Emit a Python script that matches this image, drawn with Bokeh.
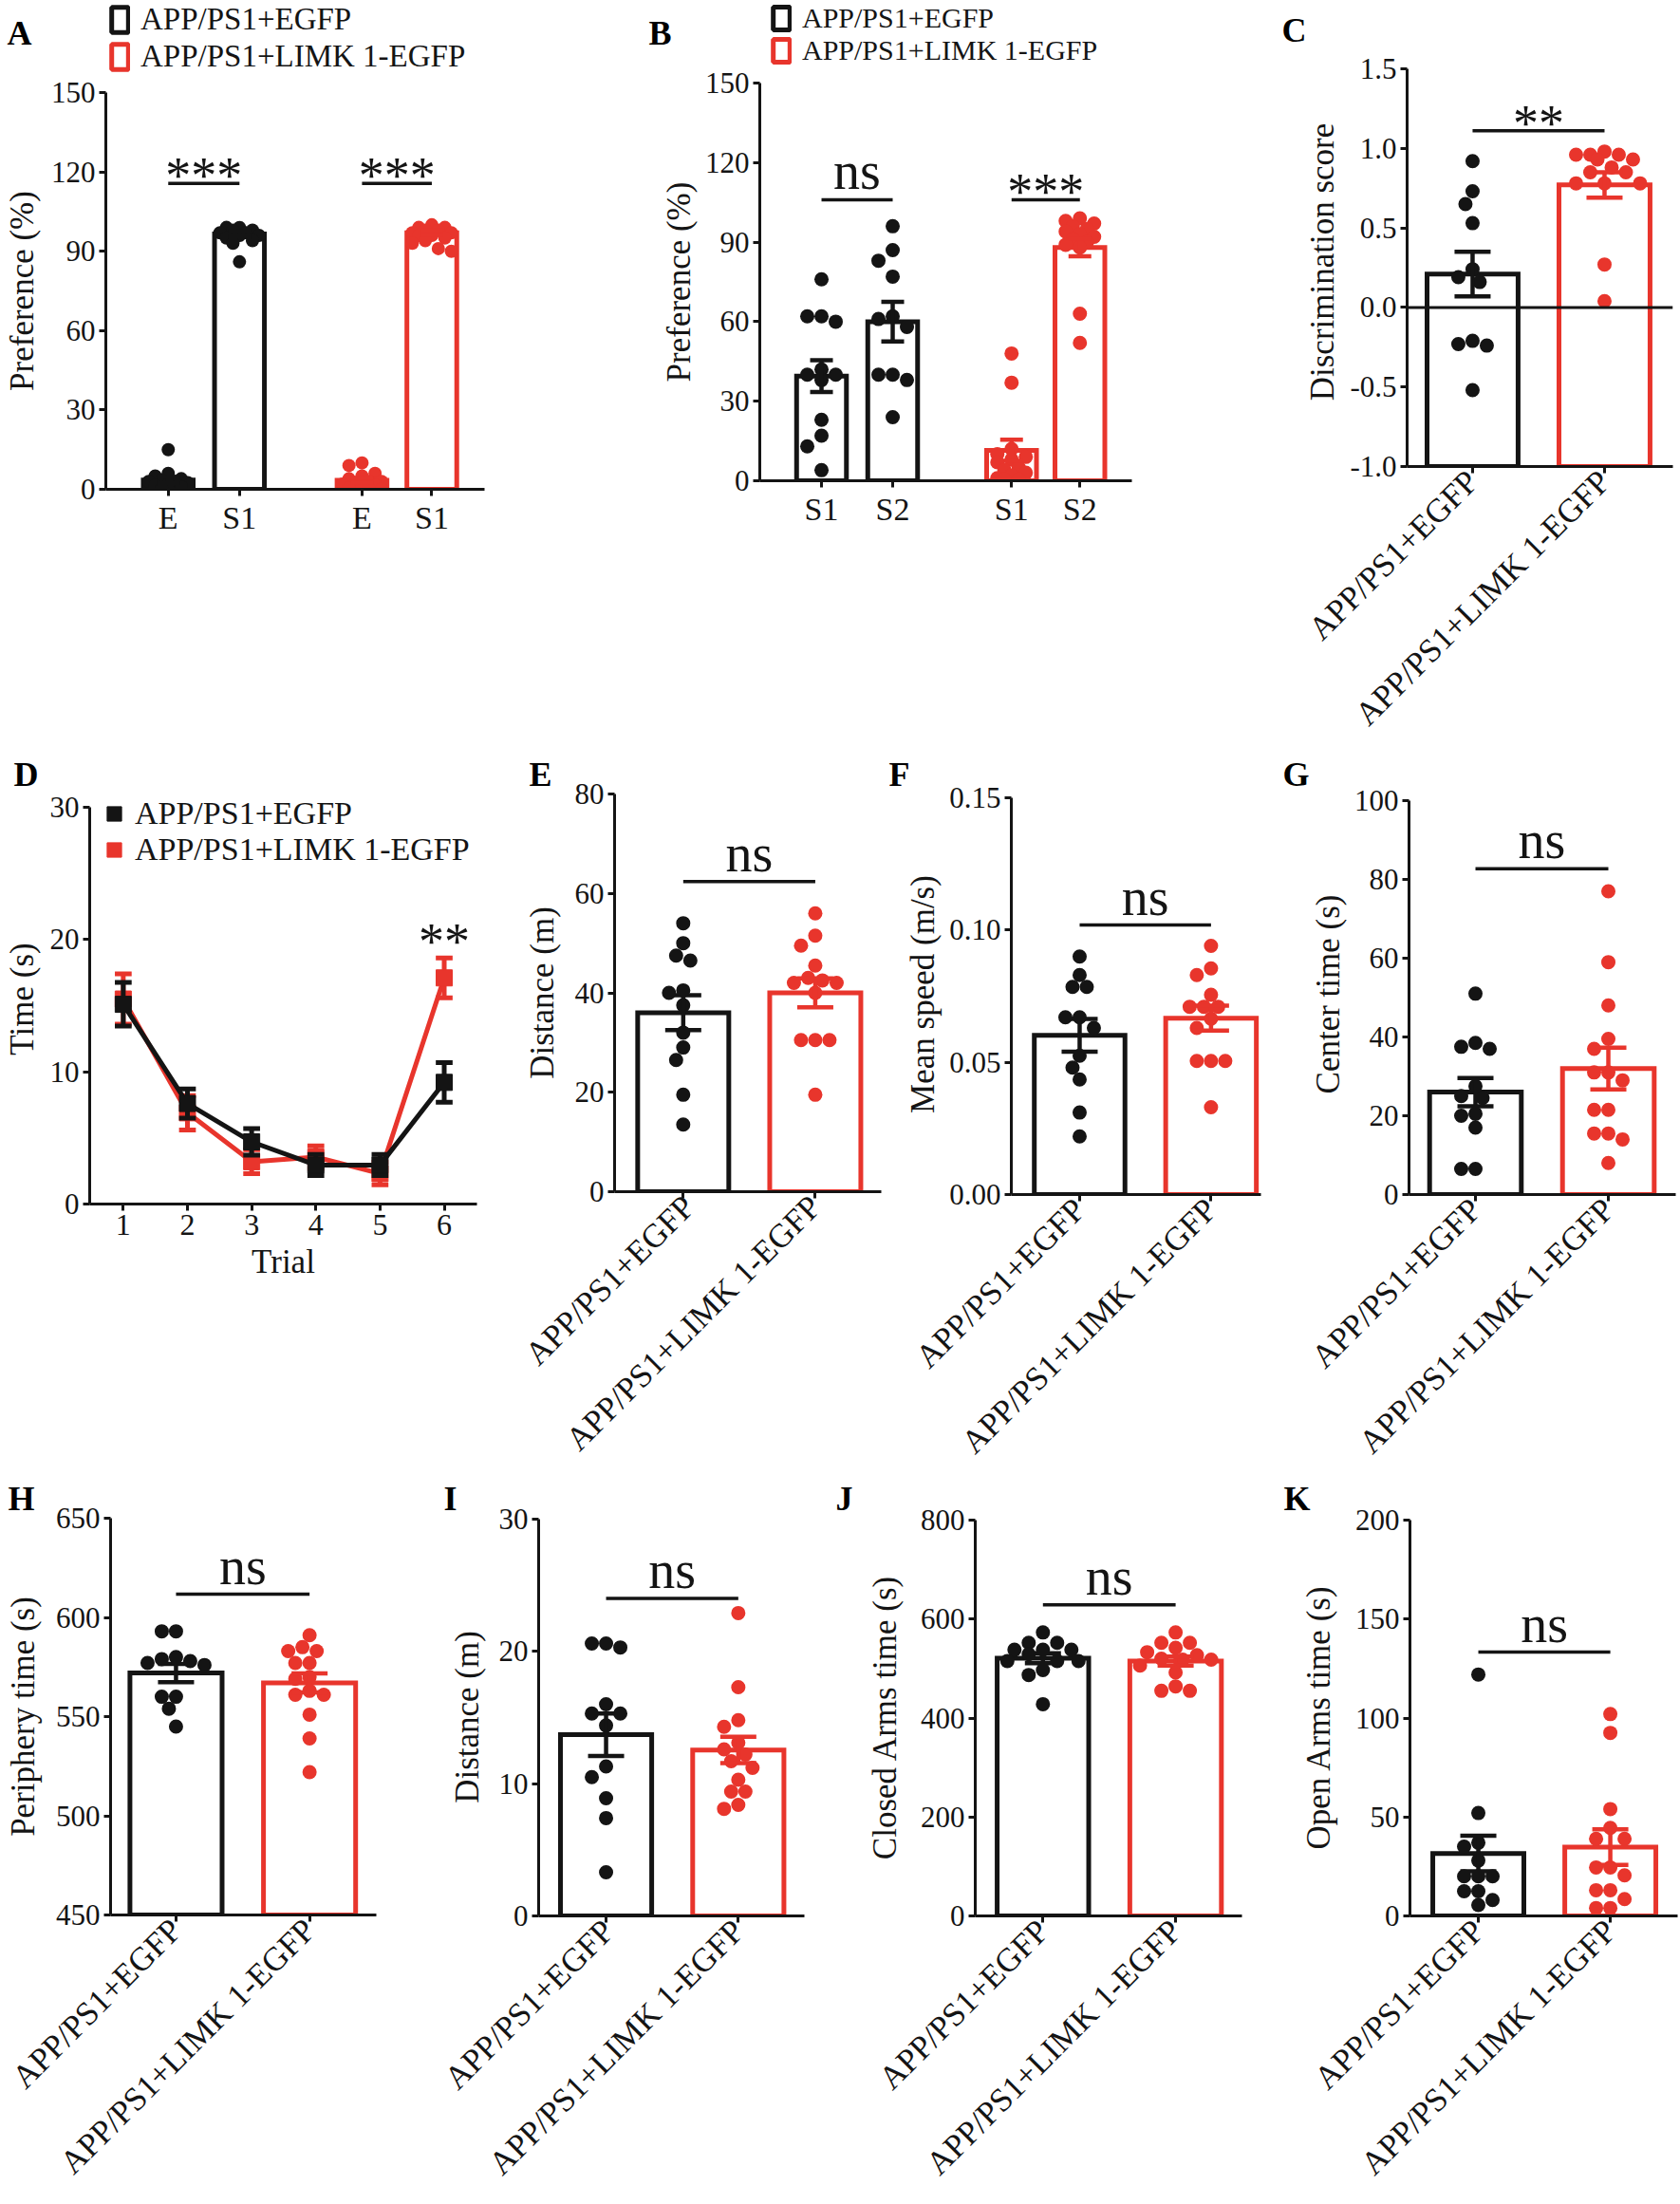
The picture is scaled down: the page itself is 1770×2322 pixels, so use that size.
import math
from bokeh.plotting import figure
from bokeh.layouts import column, row
from bokeh.models import Range1d, FixedTicker, Legend, LegendItem, Span
from bokeh.embed import file_html
from bokeh.resources import INLINE
from bokeh.core.properties import value

BLACK = "#141414"
RED = "#e8352c"
FONT = "Liberation Serif"
GROUPS = ["APP/PS1+EGFP", "APP/PS1+LIMK 1-EGFP"]

# ---------------- data ----------------
a_ticks = ["E", "S1", "E", "S1"]
a_black_E = [15, 6, 5, 4, 3.5, 3, 3, 2.5, 2, 1.5, 1, 0.5]
a_black_S1 = [99, 99, 98, 98, 97, 97, 96, 96, 95, 94, 93, 86]
a_red_E = [10, 9, 6, 5, 4, 3, 3, 2, 2, 1.5, 1, 0.5, 0.5, 0]
a_red_S1 = [100, 99, 99, 98, 98, 97, 97, 96, 96, 95, 94, 93, 91, 90]
a_mean = [3.5, 96.5, 3.4, 97.0]
a_sem = [1.2, 1.0, 0.9, 0.8]
a_yticks = [0, 30, 60, 90, 120, 150]

b_ticks = ["S1", "S2", "S1", "S2"]
b_black_S1 = [76, 62, 60, 62, 40, 42, 40, 38, 23, 17, 13, 4]
b_black_S2 = [96, 87, 83, 77, 62, 61, 58, 40, 38, 40, 24]
b_red_S1 = [48, 37, 12, 10, 9, 8, 7, 5, 4, 3, 2, 1, 0.5, 0.5]
b_red_S2 = [99, 98, 97, 96, 95, 94, 93, 92, 91, 90, 89, 88, 63, 52]
b_mean = [39.5, 60.0, 11.5, 88.0]
b_sem = [6.0, 7.5, 4.0, 3.3]
b_yticks = [0, 30, 60, 90, 120, 150]

c_black = [0.92, 0.73, 0.65, 0.53, 0.24, 0.16, 0.19, -0.23, -0.24, -0.21, -0.52]
c_red = [0.98, 0.96, 0.93, 0.93, 0.96, 0.96, 0.88, 0.85, 0.85, 0.78, 0.78, 0.78, 0.27, 0.04]
c_mean = [0.21, 0.77]
c_sem = [0.14, 0.08]
c_yticks = [-1.0, -0.5, 0.0, 0.5, 1.0, 1.5]
c_ylabels = ["-1.0", "-0.5", "0.0", "0.5", "1.0", "1.5"]

d_trials = [1, 2, 3, 4, 5, 6]
d_black_mean = [15.1, 7.6, 4.7, 2.95, 2.95, 9.2]
d_black_sem = [1.65, 1.1, 1.0, 0.8, 0.8, 1.5]
d_red_mean = [15.5, 6.9, 3.2, 3.55, 2.3, 17.1]
d_red_sem = [1.9, 1.3, 0.9, 0.85, 0.85, 1.5]
d_yticks = [0, 10, 20, 30]

e_black = [54, 50, 47.5, 46.5, 40.5, 40, 37.5, 32, 29, 26.5, 19.5, 13.5]
e_red = [56, 51.5, 49.5, 45.5, 43, 42.5, 42, 42, 40, 30.5, 30.5, 30.5, 19.5]
e_mean = [36.0, 40.0]
e_sem = [3.5, 2.9]
e_yticks = [0, 20, 40, 60, 80]

f_black = [0.090, 0.083, 0.0785, 0.0785, 0.067, 0.067, 0.063, 0.0525, 0.048, 0.0435, 0.031, 0.022]
f_red = [0.094, 0.0855, 0.083, 0.0755, 0.071, 0.071, 0.071, 0.0665, 0.063, 0.0505, 0.0505, 0.0505, 0.033]
f_mean = [0.0602, 0.0667]
f_sem = [0.0062, 0.0047]
f_yticks = [0.0, 0.05, 0.10, 0.15]
f_ylabels = ["0.00", "0.05", "0.10", "0.15"]

g_black = [51, 38.5, 37.5, 37, 27.5, 25, 24.5, 20.5, 20, 17, 6.5, 6.5]
g_red = [77, 59, 48, 39.5, 37, 31, 31, 29, 21.5, 21.5, 15.5, 15.5, 14, 8]
g_mean = [26.0, 32.0]
g_sem = [3.6, 5.3]
g_yticks = [0, 20, 40, 60, 80, 100]

h_black = [593, 593, 580, 579, 578, 577, 576, 560, 560, 554, 545]
h_red = [591, 585, 583, 583, 577, 577, 570, 569, 563, 561, 561, 551, 539, 522]
h_mean = [572.0, 567.0]
h_sem = [4.6, 4.8]
h_yticks = [450, 500, 550, 600, 650]

i_black = [20.6, 20.3, 20.6, 16, 15.3, 15.3, 14.4, 11.3, 10.5, 8.9, 7.4, 3.3]
i_red = [22.9, 17.3, 14.8, 14.3, 13.1, 12.6, 12.2, 11.7, 11.2, 10.3, 9.4, 9.4, 8.4, 8.1]
i_mean = [13.7, 12.55]
i_sem = [1.6, 1.0]
i_yticks = [0, 10, 20, 30]

j_black = [573, 552, 552, 538, 538, 538, 529, 515, 515, 515, 497, 487, 428]
j_red = [573, 552, 552, 542, 533, 527, 520, 518, 518, 506, 492, 464, 455, 455]
j_mean = [521.0, 515.0]
j_sem = [10.0, 9.0]
j_yticks = [0, 200, 400, 600, 800]

k_black = [122, 52, 37, 35, 28, 20, 20, 20, 12.5, 12.5, 5.5, 8]
k_red = [102, 92.5, 54, 44.5, 39, 39, 24.5, 24.5, 20.5, 13, 13, 8.5, 4, 4]
k_mean = [31.5, 34.8]
k_sem = [9.0, 9.0]
k_yticks = [0, 50, 100, 150, 200]

# ---------------- layout geometry (page pixels) ----------------
# key: (canvas x0, y0, x1, y1), (frame left, top, right, bottom), (axis top px, axis bottom px)
GEOM = {
    "A": ((0, 78, 670, 792), (103, 97, 510, 515), (97, 515)),
    "B": ((670, 70, 1335, 792), (800, 87, 1192, 506), (87, 506)),
    "C": ((1335, 0, 1770, 792), (1482, 60, 1762, 491), (72, 491)),
    "D": ((0, 792, 545, 1555), (87, 836, 502, 1268), (850, 1268)),
    "E": ((545, 792, 932, 1555), (647, 836, 928, 1255), (836, 1255)),
    "F": ((932, 792, 1335, 1555), (1065, 836, 1328, 1258), (840, 1258)),
    "G": ((1335, 792, 1770, 1555), (1484, 836, 1765, 1259), (843, 1259)),
    "H": ((0, 1555, 460, 2322), (116, 1599, 396, 2017), (1599, 2017)),
    "I": ((460, 1555, 860, 2322), (567, 1599, 847, 2018), (1600, 2018)),
    "J": ((860, 1555, 1335, 2322), (1027, 1599, 1308, 2018), (1601, 2018)),
    "K": ((1335, 1555, 1770, 2322), (1485, 1599, 1767, 2018), (1601, 2018)),
}
HEADER = {"A": (0, 0, 670, 78), "B": (670, 0, 1335, 70)}
LETTER_X = {"A": 7, "B": 683, "C": 1350, "D": 7, "E": 557, "F": 936, "G": 1351,
            "H": 8, "I": 467, "J": 880, "K": 1352}
TITLE_STANDOFF = {"C": 18}
CAT_FONT = "35px"


def y_scale(key, ymin, ymax):
    _, (fl, ft, fr, fb), (at, ab) = GEOM[key]
    pxy = (ab - at) / (ymax - ymin)
    return (ymin - (fb - ab) / pxy, ymax + (at - ft) / pxy), pxy


def base_fig(key, xr, ylim, yticks, ylabel, ylabel_standoff, ytick_labels=None,
             with_title=True):
    (x0, y0, x1, y1), (fl, ft, fr, fb), _ = GEOM[key]
    yr, _ = y_scale(key, *ylim)
    p = figure(width=x1 - x0, height=y1 - y0,
               x_range=Range1d(*xr), y_range=Range1d(*yr),
               output_backend="svg", toolbar_location=None,
               title=key if with_title else None,
               min_border_left=fl - x0, min_border_right=x1 - fr,
               min_border_top=ft - y0, min_border_bottom=y1 - fb)
    p.grid.visible = False
    p.outline_line_color = None
    p.background_fill_color = "white"
    p.border_fill_color = "white"
    if with_title:
        p.title.align = "left"
        p.title.offset = LETTER_X[key] - fl
        p.title.standoff = TITLE_STANDOFF.get(key, 2)
        p.title.text_font = FONT
        p.title.text_font_style = "bold"
        p.title.text_font_size = "36px"
        p.title.text_color = "black"
    for ax in (p.xaxis[0], p.yaxis[0]):
        ax.axis_line_width = 3
        ax.axis_line_color = BLACK
        ax.major_tick_line_width = 3
        ax.major_tick_line_color = BLACK
        ax.major_tick_out = 7
        ax.major_tick_in = 0
        ax.minor_tick_line_color = None
        ax.major_label_text_font = FONT
        ax.major_label_text_color = BLACK
        ax.axis_label_text_font = FONT
        ax.axis_label_text_font_style = "normal"
        ax.axis_label_text_color = BLACK
        ax.major_label_standoff = 4
    yax = p.yaxis[0]
    yax.bounds = ylim
    yax.ticker = FixedTicker(ticks=yticks)
    if ytick_labels is not None:
        yax.major_label_overrides = {t: s for t, s in zip(yticks, ytick_labels)}
    yax.major_label_text_font_size = "31px"
    yax.axis_label = ylabel
    yax.axis_label_text_font_size = "35px"
    yax.axis_label_standoff = ylabel_standoff
    return p


def make_legend(items, loc, gw, gh, standoff, spacing, fsize):
    return Legend(items=[LegendItem(label=value(t), renderers=[r]) for t, r in items],
                  location=loc, orientation="vertical",
                  glyph_width=gw, glyph_height=gh, label_standoff=standoff,
                  spacing=spacing, padding=0, margin=0, border_line_color=None,
                  background_fill_alpha=0, label_text_font=FONT,
                  label_text_font_size=fsize, label_text_color=BLACK)


def header_fig(key, items_font, gh, spacing, legend_left):
    x0, y0, x1, y1 = HEADER[key]
    h = figure(width=x1 - x0, height=y1 - y0, x_range=Range1d(x0, x1),
               y_range=Range1d(y1, y0), x_axis_type=None, y_axis_type=None,
               output_backend="svg", toolbar_location=None,
               min_border_left=0, min_border_right=0, min_border_top=0,
               min_border_bottom=0)
    h.outline_line_color = None
    h.background_fill_color = "white"
    h.border_fill_color = "white"
    h.text(x=[LETTER_X[key]], y=[y0 + 14], text=[key], text_baseline="top",
           text_align="left", text_font=value(FONT), text_font_style=value("bold"),
           text_font_size=value("36px"), text_color="black")
    # hidden bar renderers that only lend their style to the legend swatches
    off = [x0 - 1000]
    rb = h.vbar(x=off, top=[y1], bottom=y1, width=1, fill_color="white",
                line_color=BLACK, line_width=5, visible=False)
    rr = h.vbar(x=off, top=[y1], bottom=y1, width=1, fill_color="white",
                line_color=RED, line_width=5, visible=False)
    h.add_layout(make_legend([(GROUPS[0], rb), (GROUPS[1], rr)],
                             (legend_left - x0, 0), 22, gh, 11, spacing, items_font),
                 "center")
    return h


def px_x(key, xr):
    _, (fl, ft, fr, fb), _ = GEOM[key]
    return (fr - fl) / (xr[1] - xr[0])


def swarm_x(vals, xc, pxx, pxy, diam, max_half):
    order = sorted(range(len(vals)), key=lambda i: -vals[i])
    step = diam / 2.0
    n = int(max_half // step)
    cands = sorted([k * step for k in range(-n, n + 1)], key=lambda c: (abs(c), c))
    placed = []
    xs = [xc] * len(vals)
    for i in order:
        yp = vals[i] * pxy
        best, best_d = 0.0, -1.0
        for c in cands:
            d = min((math.hypot(c - px, yp - py) for px, py in placed), default=1e9)
            if d >= diam * 0.95:
                best = c
                break
            if d > best_d:
                best_d, best = d, c
        placed.append((best, yp))
        xs[i] = xc + best / pxx
    return xs


def bar_panel(p, key, xr, ylim, xpos, groups, means, sems, colors, bar_w,
              diam, max_half, cap_px):
    pxx = px_x(key, xr)
    _, pxy = y_scale(key, *ylim)
    for col in (BLACK, RED):
        idx = [i for i, c in enumerate(colors) if c == col]
        p.vbar(x=[xpos[i] for i in idx], top=[means[i] for i in idx],
               bottom=ylim[0], width=bar_w, fill_color="white",
               line_color=col, line_width=5, line_join="miter")
    for i, vals in enumerate(groups):
        xs = swarm_x(vals, xpos[i], pxx, pxy, diam, max_half)
        p.scatter(x=xs, y=vals, size=diam, marker="circle",
                  fill_color=colors[i], line_color=None)
    cap = cap_px / pxx
    lo = [m - s for m, s in zip(means, sems)]
    hi = [m + s for m, s in zip(means, sems)]
    p.segment(x0=xpos, y0=lo, x1=xpos, y1=hi, line_color=colors, line_width=4.5)
    p.segment(x0=[x - cap for x in xpos], y0=hi, x1=[x + cap for x in xpos], y1=hi,
              line_color=colors, line_width=4.5)
    p.segment(x0=[x - cap for x in xpos], y0=lo, x1=[x + cap for x in xpos], y1=lo,
              line_color=colors, line_width=4.5)


def sig(p, key, ylim, x0, x1, y, text, size):
    _, pxy = y_scale(key, *ylim)
    p.segment(x0=[x0], y0=[y], x1=[x1], y1=[y], line_color=BLACK, line_width=3.5)
    shift = 30 if text == "ns" else 8     # pixels above the line
    p.text(x=[(x0 + x1) / 2], y=[y + shift / pxy], text=[text], text_align="center",
           text_baseline="alphabetic", text_font=value(FONT),
           text_font_size=value(size), text_color=BLACK)


def cat_xaxis(p, ticks, labels, size, rotate):
    ax = p.xaxis[0]
    ax.ticker = FixedTicker(ticks=ticks)
    ax.major_label_overrides = {t: s for t, s in zip(ticks, labels)}
    ax.major_label_text_font_size = size
    if rotate:
        ax.major_label_orientation = math.pi / 4
        ax.major_label_standoff = 3


def wrap(p):
    return column(p)


# ---------------- panel A ----------------
xrA = (0.124, 5.44)
posA = [1, 2, 3.72, 4.7]
hA = header_fig("A", "33px", 33, 2, 115)
pA = base_fig("A", xrA, (0, 150), a_yticks, "Preference (%)", 8, with_title=False)
bar_panel(pA, "A", xrA, (0, 150), posA, [a_black_E, a_black_S1, a_red_E, a_red_S1],
          a_mean, a_sem, [BLACK, BLACK, RED, RED], 0.70, 14, 26, 12)
cat_xaxis(pA, posA, a_ticks, "34px", False)
sig(pA, "A", (0, 150), posA[0], posA[1], 115.6, "***", "54px")
sig(pA, "A", (0, 150), posA[2], posA[3], 115.6, "***", "54px")

# ---------------- panel B ----------------
xrB = (0.133, 5.36)
posB = [1, 2, 3.67, 4.63]
hB = header_fig("B", "30px", 30, 0, 812)
pB = base_fig("B", xrB, (0, 150), b_yticks, "Preference (%)", 5, with_title=False)
bar_panel(pB, "B", xrB, (0, 150), posB, [b_black_S1, b_black_S2, b_red_S1, b_red_S2],
          b_mean, b_sem, [BLACK, BLACK, RED, RED], 0.70, 15, 16, 12)
cat_xaxis(pB, posB, b_ticks, "34px", False)
sig(pB, "B", (0, 150), posB[0], posB[1], 106, "ns", "56px")
sig(pB, "B", (0, 150), posB[2], posB[3], 106, "***", "54px")

# ---------------- panel C ----------------
xrC = (0.504, 2.518)
pC = base_fig("C", xrC, (-1.0, 1.5), c_yticks, "Discrimination score", 6, c_ylabels)
bar_panel(pC, "C", xrC, (-1.0, 1.5), [1, 2], [c_black, c_red], c_mean, c_sem,
          [BLACK, RED], 0.69, 15, 40, 19)
pC.add_layout(Span(location=0, dimension="width", line_color=BLACK, line_width=3))
cat_xaxis(pC, [1, 2], GROUPS, CAT_FONT, True)
sig(pC, "C", (-1.0, 1.5), 1, 2, 1.11, "**", "54px")

# ---------------- panel D ----------------
xrD = (0.477, 6.51)
pD = base_fig("D", xrD, (0, 30), d_yticks, "Time (s)", 7)
_, pxyD = y_scale("D", 0, 30)
capD = 9 / px_x("D", xrD)
dr = {}
for means, sems, col in ((d_red_mean, d_red_sem, RED), (d_black_mean, d_black_sem, BLACK)):
    lo = [m - s for m, s in zip(means, sems)]
    hi = [m + s for m, s in zip(means, sems)]
    pD.line(d_trials, means, line_color=col, line_width=5)
    pD.segment(x0=d_trials, y0=lo, x1=d_trials, y1=hi, line_color=col, line_width=5)
    pD.segment(x0=[t - capD for t in d_trials], y0=hi, x1=[t + capD for t in d_trials],
               y1=hi, line_color=col, line_width=5)
    pD.segment(x0=[t - capD for t in d_trials], y0=lo, x1=[t + capD for t in d_trials],
               y1=lo, line_color=col, line_width=5)
    dr[col] = pD.scatter(d_trials, means, marker="square", size=17,
                         fill_color=col, line_color=col)
xD = pD.xaxis[0]
xD.ticker = FixedTicker(ticks=d_trials)
xD.major_label_text_font_size = "32px"
xD.axis_label = "Trial"
xD.axis_label_text_font_size = "35px"
xD.axis_label_standoff = 6
pD.text(x=[d_trials[-1]], y=[d_red_mean[-1] + d_red_sem[-1] + 17 / pxyD], text=["**"],
        text_align="center", text_baseline="alphabetic",
        text_font=value(FONT), text_font_size=value("54px"), text_color=BLACK)
_, (flD, ftD, frD, fbD), _ = GEOM["D"]
pD.add_layout(make_legend([(GROUPS[0], dr[BLACK]), (GROUPS[1], dr[RED])],
                          (93 - flD, fbD - (837 + 77)), 40, 38, 2, 0, "34px"), "center")


# ---------------- panels E..K ----------------
def simple_panel(key, xr, ylim, yticks, ylabel, standoff, black, red, means, sems,
                 sig_y, max_half, ytick_labels=None):
    p = base_fig(key, xr, ylim, yticks, ylabel, standoff, ytick_labels)
    bar_panel(p, key, xr, ylim, [1, 2], [black, red], means, sems, [BLACK, RED],
              0.69, 15, max_half, 19)
    cat_xaxis(p, [1, 2], GROUPS, CAT_FONT, True)
    sig(p, key, ylim, 1, 2, sig_y, "ns", "56px")
    return p


pE = simple_panel("E", (0.48, 2.50), (0, 80), e_yticks, "Distance (m)", 12,
                  e_black, e_red, e_mean, e_sem, 62.4, 24)
pF = simple_panel("F", (0.48, 2.38), (0, 0.15), f_yticks, "Mean speed (m/s)", 5,
                  f_black, f_red, f_mean, f_sem, 0.1019, 26, f_ylabels)
pG = simple_panel("G", (0.50, 2.507), (0, 100), g_yticks, "Center time (s)", 5,
                  g_black, g_red, g_mean, g_sem, 82.7, 30)
pH = simple_panel("H", (0.51, 2.50), (450, 650), h_yticks, "Periphery time (s)", 12,
                  h_black, h_red, h_mean, h_sem, 611.7, 40)
pI = simple_panel("I", (0.49, 2.50), (0, 30), i_yticks, "Distance (m)", 11,
                  i_black, i_red, i_mean, i_sem, 24.0, 32)
pJ = simple_panel("J", (0.49, 2.50), (0, 800), j_yticks, "Closed Arms time (s)", 15,
                  j_black, j_red, j_mean, j_sem, 629, 40)
pK = simple_panel("K", (0.482, 2.51), (0, 200), k_yticks, "Open Arms time (s)", 16,
                  k_black, k_red, k_mean, k_sem, 133.3, 40)

colA = column(wrap(hA), wrap(pA))
colB = column(wrap(hB), wrap(pB))
left_block = column(row(colA, colB),
                    row(wrap(pD), wrap(pE), wrap(pF)),
                    row(wrap(pH), wrap(pI), wrap(pJ)))
right_block = column(wrap(pC), wrap(pG), wrap(pK))
layout = row(left_block, right_block)
open("out.html", "w").write(file_html(layout, INLINE, "Figure"))
